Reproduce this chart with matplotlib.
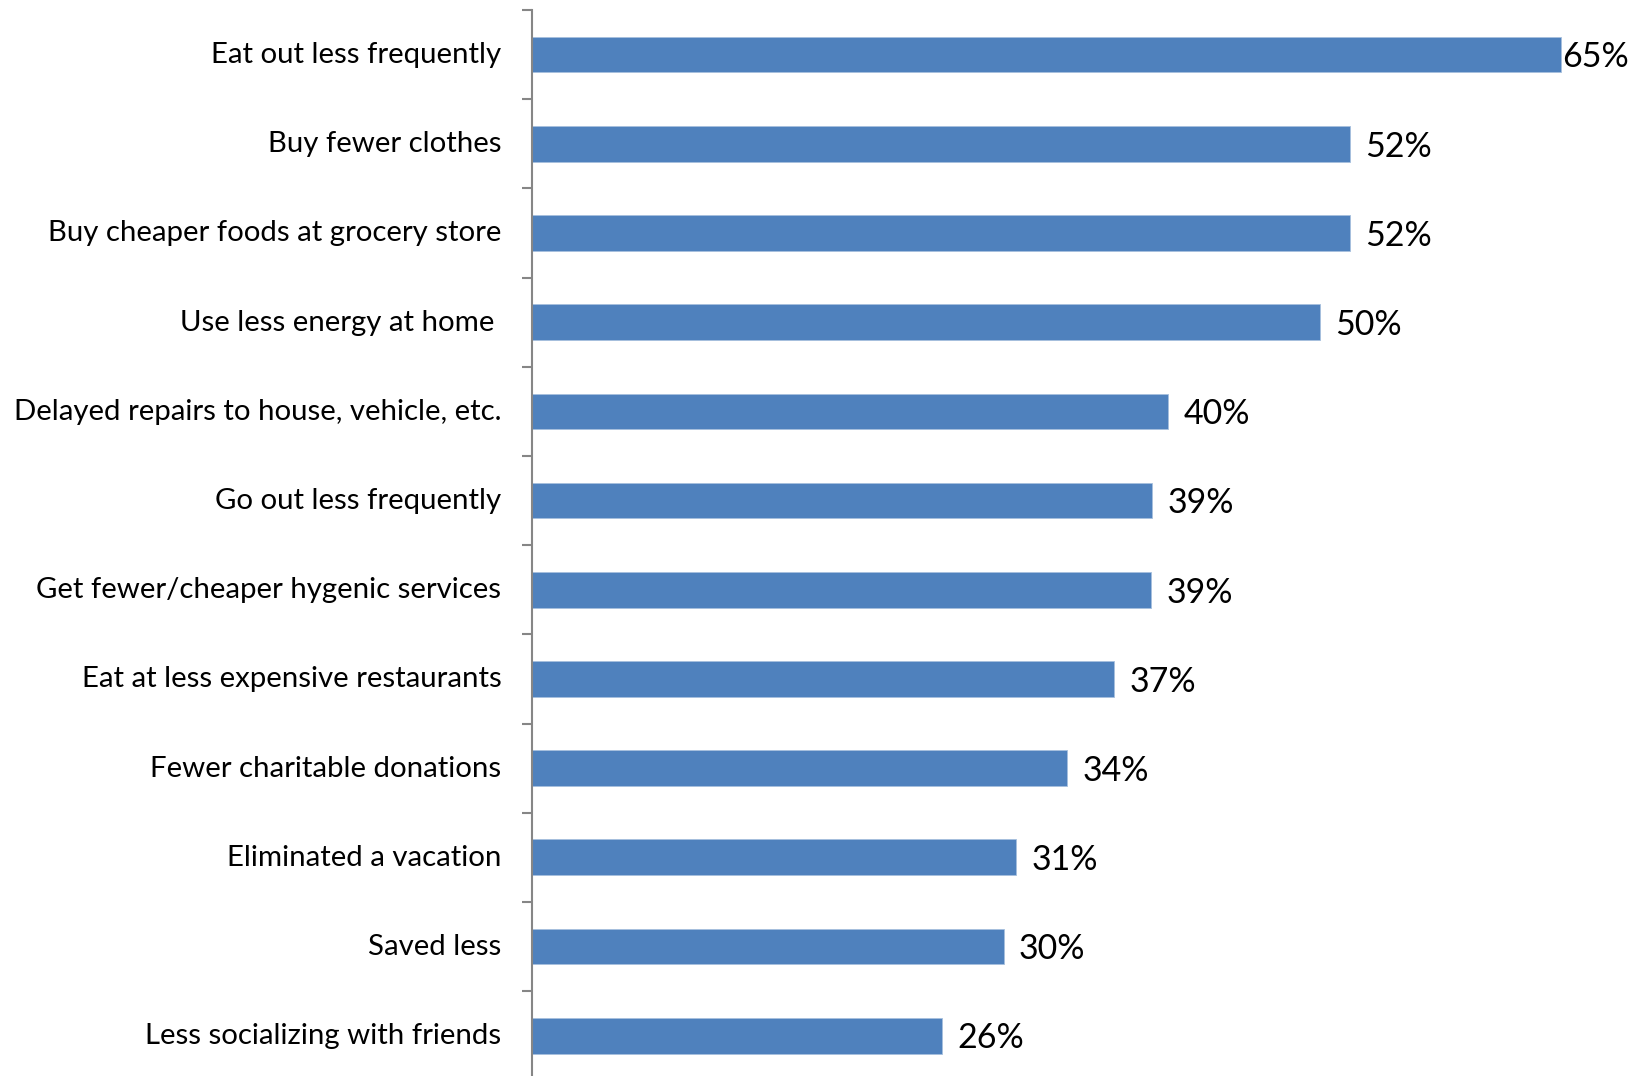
import matplotlib
matplotlib.use("Agg")
import matplotlib.pyplot as plt
import matplotlib.transforms as mtransforms
import numpy as np

# survey answers, top to bottom as in the chart
categories = [
    "Eat out less frequently",
    "Buy fewer clothes",
    "Buy cheaper foods at grocery store",
    "Use less energy at home ",
    "Delayed repairs to house, vehicle, etc.",
    "Go out less frequently",
    "Get fewer/cheaper hygenic services",
    "Eat at less expensive restaurants",
    "Fewer charitable donations",
    "Eliminated a vacation",
    "Saved less",
    "Less socializing with friends",
]
# bar lengths
values = [65.0, 51.7, 51.7, 49.8, 40.2, 39.2, 39.1, 36.8, 33.8, 30.6, 29.8, 25.9]
# data labels as printed
value_labels = ["65%", "52%", "52%", "50%", "40%", "39%", "39%", "37%", "34%", "31%", "30%", "26%"]

plt.rcParams["font.family"] = ["Lato", "DejaVu Sans"]

fig = plt.figure(figsize=(16.46, 10.76), dpi=100)
ax = fig.add_axes([532 / 1646, -0.004, 1108 / 1646, 0.9947])

n = len(categories)
y = np.arange(n)
ax.barh(y, values, height=0.4, color="#4F81BD", edgecolor="#A7C0DE", linewidth=0.6)
ax.set_ylim(n - 0.5, -0.5)
ax.set_xlim(0, 70)

# category labels at bar centres, tick marks at the boundaries
ax.set_yticks(y)
ax.set_yticklabels(categories, fontsize=21.2)
ax.tick_params(axis="y", which="major", length=0, pad=22)
shift = mtransforms.ScaledTranslation(0, 2 / 100, fig.dpi_scale_trans)
for lbl in ax.get_yticklabels():
    lbl.set_transform(lbl.get_transform() + shift)
ax.set_yticks(np.arange(n + 1) - 0.5, minor=True)
ax.tick_params(axis="y", which="minor", length=7, width=1.5, color="#868686", direction="out")

ax.set_xticks([])
for s in ["top", "right", "bottom"]:
    ax.spines[s].set_visible(False)
ax.spines["left"].set_color("#868686")
ax.spines["left"].set_linewidth(1.5)

top = max(values)
for yi, v, txt in zip(y, values, value_labels):
    off = 1 if v == top else 11
    ax.annotate(txt, (v, yi), xytext=(off, -2), textcoords="offset points",
                va="center", ha="left", fontsize=24.5, clip_on=False)

fig.savefig("out.png", dpi=100)
